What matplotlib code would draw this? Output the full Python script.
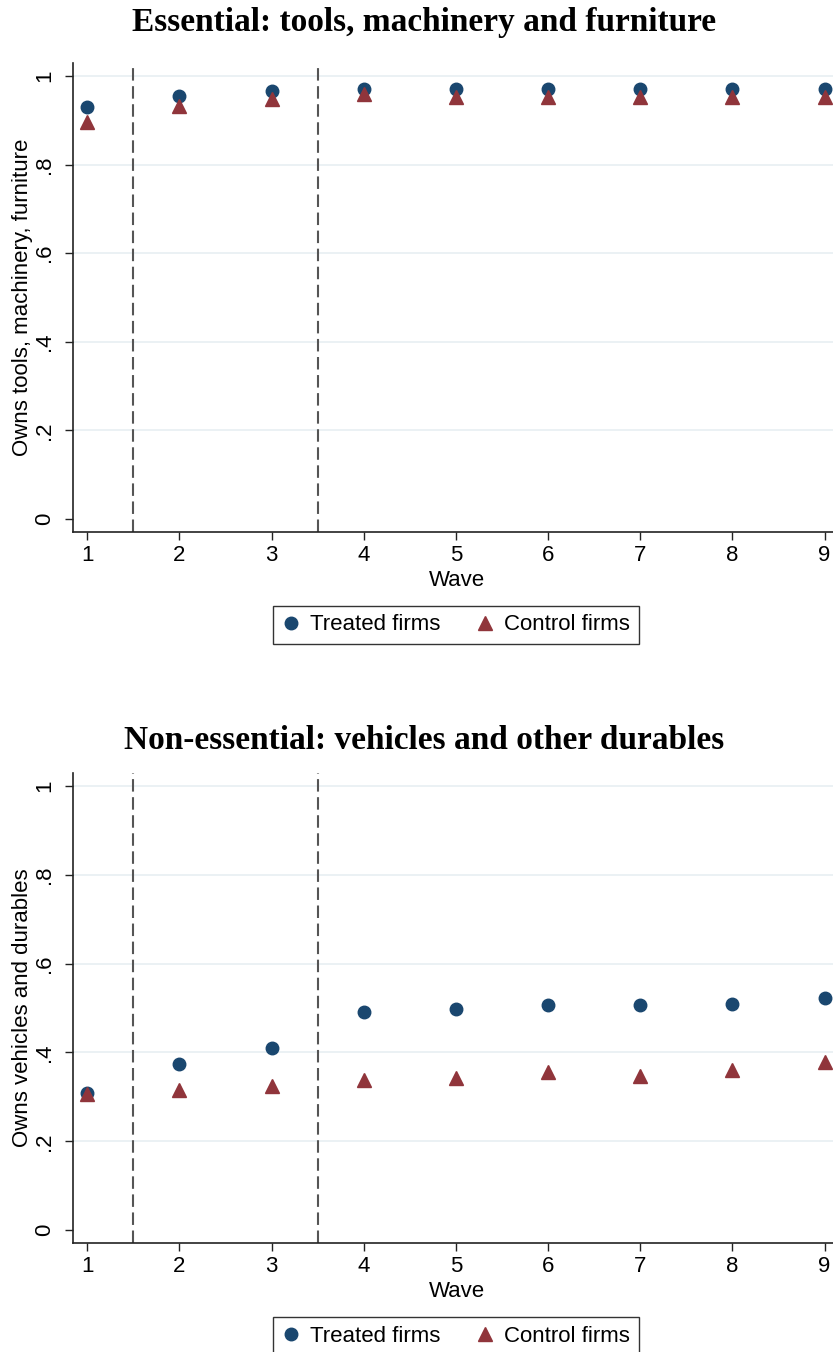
import matplotlib
matplotlib.use("Agg")
import matplotlib.pyplot as plt
from matplotlib.lines import Line2D

# ---- data ----
waves = [1, 2, 3, 4, 5, 6, 7, 8, 9]
ess_treated = [0.929, 0.955, 0.965, 0.970, 0.970, 0.970, 0.970, 0.970, 0.970]
ess_control = [0.896, 0.933, 0.947, 0.959, 0.953, 0.953, 0.953, 0.953, 0.953]
non_treated = [0.309, 0.373, 0.410, 0.492, 0.498, 0.507, 0.507, 0.510, 0.523]
non_control = [0.307, 0.316, 0.324, 0.337, 0.342, 0.357, 0.348, 0.361, 0.379]
yticks = [0, 0.2, 0.4, 0.6, 0.8, 1.0]
ytick_labels = ["0", ".2", ".4", ".6", ".8", "1"]
vlines = [1.5, 3.5]
titles = ["Essential: tools, machinery and furniture",
          "Non-essential: vehicles and other durables"]
ylabels = ["Owns tools, machinery, furniture", "Owns vehicles and durables"]
legend_labels = ["Treated firms", "Control firms"]

NAVY = "#1a476f"
MAROON = "#90353b"
W, H = 833, 1352
FS = 16

plt.rcParams["font.family"] = ["Liberation Sans", "DejaVu Sans"]
plt.rcParams["lines.scale_dashes"] = False

fig = plt.figure(figsize=(W / 100, H / 100), dpi=100)

panels = [
    (ess_treated, ess_control, 63, 532, 31, 625),
    (non_treated, non_control, 773, 1243, 749, 1336),
]

for i, (tr, co, top_px, bot_px, title_base, leg_c) in enumerate(panels):
    left_px, right_px = 73, 837
    ax = fig.add_axes([left_px / W, 1 - bot_px / H,
                       (right_px - left_px) / W, (bot_px - top_px) / H])
    ax.set_xlim(0.845, 9.135)
    ax.set_ylim(-0.029, 1.029)
    for yv in yticks[1:]:
        ax.axhline(yv, color="#e9f0f3", lw=1.3, zorder=0)
    for xv in vlines:
        ax.axvline(xv, color="#555555", lw=1.5, dashes=(9, 4), zorder=1)
    ax.plot(waves, tr, "o", color=NAVY, ms=9, ls="none", zorder=3)
    ax.plot(waves, co, "^", color=MAROON, ms=10, ls="none", zorder=4)

    ax.spines["top"].set_visible(False)
    ax.spines["right"].set_visible(False)
    for s in ("left", "bottom"):
        ax.spines[s].set_linewidth(1.2)
        ax.spines[s].set_color("#222222")
    ax.set_xticks(waves)
    ax.set_xticklabels([str(w) for w in waves])
    ax.set_yticks(yticks)
    ax.set_yticklabels(ytick_labels, rotation=90, va="center")
    ax.tick_params(axis="both", length=6, width=1.0, color="#222222",
                   labelsize=FS)
    ax.tick_params(axis="x", pad=3.5)
    ax.tick_params(axis="y", pad=7)

    ax.set_xlabel("Wave", fontsize=FS)
    ax.xaxis.set_label_coords(0.5026, -38 / (bot_px - top_px))
    ax.xaxis.label.set_va("top")
    ax.set_ylabel(ylabels[i], fontsize=FS)
    ax.yaxis.set_label_coords(-40 / (right_px - left_px), 0.5)

    fig.text(424 / W, 1 - title_base / H, titles[i], ha="center",
             va="baseline", fontsize=24, fontweight="bold",
             family=["Liberation Serif", "DejaVu Serif"])

    handles = [
        Line2D([], [], marker="o", color=NAVY, ls="none", ms=9),
        Line2D([], [], marker="^", color=MAROON, ls="none", ms=10),
    ]
    leg = fig.legend(handles, legend_labels, loc="center",
                     bbox_to_anchor=(456 / W, 1 - leg_c / H), ncol=2,
                     fontsize=FS, frameon=True, fancybox=False,
                     edgecolor="black", handlelength=0.8,
                     handletextpad=0.45, columnspacing=1.6,
                     borderpad=0.4, borderaxespad=0)
    leg.get_frame().set_linewidth(1.0)

fig.savefig("out.png", dpi=100)
